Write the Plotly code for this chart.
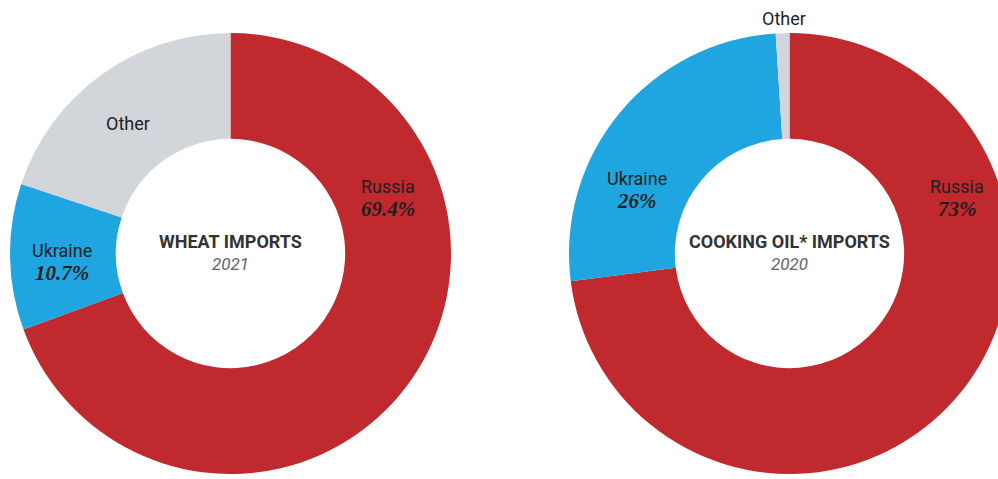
import plotly.graph_objects as go

# ---- data ----
categories = ["Russia", "Ukraine", "Other"]
wheat_values = [69.4, 10.7, 19.9]
oil_values = [73, 26, 1]
wheat_labels = ["69.4%", "10.7%", None]
oil_labels = ["73%", "26%", None]
colors = ["#C0292D", "#1FA5DF", "#D2D5D9"]

W, H = 1012, 479

def px(x):
    return x / W

def py(y):
    return 1 - y / H

fig = go.Figure()

fig.add_trace(go.Pie(
    labels=categories, values=wheat_values, sort=False, direction="clockwise",
    rotation=0, hole=0.52, textinfo="none", hoverinfo="label+percent",
    marker=dict(colors=colors, line=dict(width=0)),
    domain=dict(x=[px(10), px(451)], y=[py(474), py(33)]),
    showlegend=False,
))
fig.add_trace(go.Pie(
    labels=categories, values=oil_values, sort=False, direction="clockwise",
    rotation=0, hole=0.52, textinfo="none", hoverinfo="label+percent",
    marker=dict(colors=colors, line=dict(width=0)),
    domain=dict(x=[px(569), px(1010)], y=[py(474), py(33)]),
    showlegend=False,
))

label_font = dict(family="Liberation Sans Narrow, Roboto, sans-serif", size=18, color="#1f1f1f")
value_font = dict(family="Liberation Serif, serif", size=21, color="#1f1f1f", style="italic", weight="bold")

annotations = []

def add_label(name, value, x, y):
    annotations.append(dict(x=px(x), y=py(y), xref="paper", yref="paper", text=name,
                            showarrow=False, xanchor="center", yanchor="middle", font=label_font))
    if value:
        annotations.append(dict(x=px(x), y=py(y + 23), xref="paper", yref="paper", text=value,
                                showarrow=False, xanchor="center", yanchor="middle", font=value_font))

# wheat
add_label(categories[0], wheat_labels[0], 388, 186)
add_label(categories[1], wheat_labels[1], 62, 250)
add_label(categories[2], wheat_labels[2], 128, 124)
# oil
add_label(categories[0], oil_labels[0], 957, 186)
add_label(categories[1], oil_labels[1], 637, 178)
add_label(categories[2], oil_labels[2], 784, 18)

title_font = dict(family="Liberation Sans Narrow, Roboto, sans-serif", size=18, color="#333333", weight="bold")
year_font = dict(family="Liberation Sans Narrow, Roboto, sans-serif", size=17, color="#666666", style="italic")

for cx, title, year in [(230, "WHEAT IMPORTS", "2021"), (789, "COOKING OIL* IMPORTS", "2020")]:
    annotations.append(dict(x=px(cx), y=py(241), xref="paper", yref="paper", text=title,
                            showarrow=False, xanchor="center", yanchor="middle", font=title_font))
    annotations.append(dict(x=px(cx), y=py(264), xref="paper", yref="paper", text=year,
                            showarrow=False, xanchor="center", yanchor="middle", font=year_font))

fig.update_layout(
    width=W, height=H,
    margin=dict(l=0, r=0, t=0, b=0),
    paper_bgcolor="white", plot_bgcolor="white",
    annotations=annotations,
)

fig.write_html(
    "out.html",
    config={"displayModeBar": False},
    post_script="document.body.style.margin='0';document.body.style.overflow='hidden';document.documentElement.style.overflow='hidden';",
)
